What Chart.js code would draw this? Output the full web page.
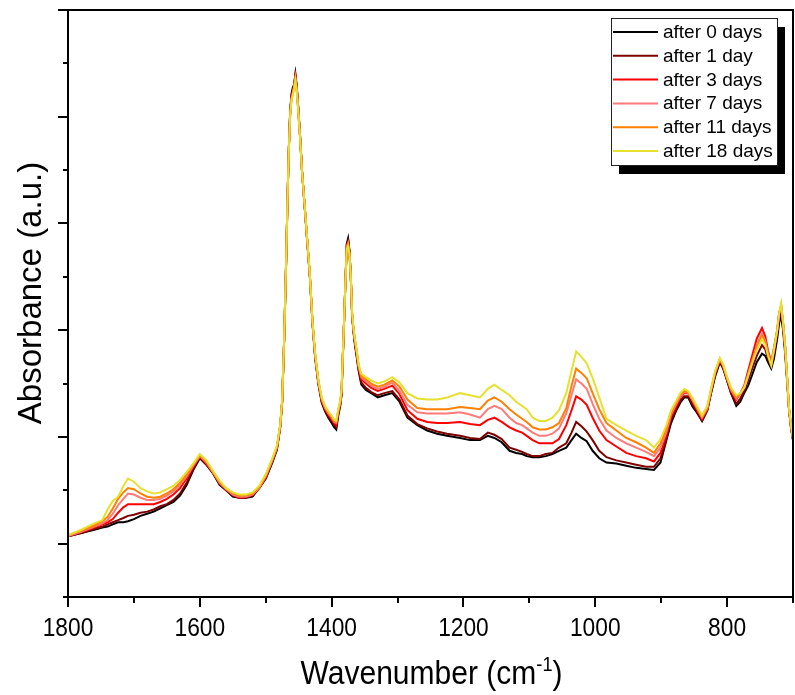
<!DOCTYPE html>
<html>
<head>
<meta charset="utf-8">
<title>Absorbance spectra</title>
<script src="https://cdn.jsdelivr.net/npm/chart.js@4.4.0/dist/chart.umd.min.js"></script>
<style>
    body { margin: 0; background: #fff; }
    #myLineChart { display: block; }
</style>
</head>
<body>
<canvas id="myLineChart" width="795" height="695"></canvas>
<script>
// wavenumber (cm-1) of each sampled point
var wavenumber = [1800, 1780, 1760, 1748, 1740, 1732, 1724, 1716, 1709, 1700, 1690, 1680, 1670, 1660, 1650, 1640, 1630, 1620, 1610, 1600, 1590, 1580, 1570, 1560, 1550, 1540, 1530, 1520, 1510, 1500, 1490, 1483,
    1478, 1475, 1472, 1469, 1467, 1465, 1463, 1461, 1459, 1457, 1455, 1453, 1451, 1448, 1445, 1441, 1437, 1433, 1429, 1425, 1420, 1415, 1410, 1405, 1400, 1396, 1393, 1390, 1387, 1385, 1383, 1381, 1379, 1377, 1375, 1373, 1371, 1369, 1367, 1365, 1362, 1359, 1355,
    1348, 1340, 1330, 1320, 1308, 1297, 1285, 1270, 1255, 1240, 1225, 1205, 1190, 1175, 1163, 1153, 1142, 1130, 1120, 1111,
    1104, 1095, 1085, 1075, 1065, 1055, 1044, 1036, 1029, 1021, 1013, 1004, 994, 983, 968, 953, 938, 923,
    911, 901, 892, 885, 877, 871, 865, 859, 853, 846, 838, 830, 824, 818, 811, 806, 800, 794, 786, 780, 774, 768, 762, 755, 747, 742, 738, 733, 729, 724, 721, 718, 715, 712, 709, 706, 703, 700];

// absorbance, in thousandths of an arbitrary unit
var after0 = [7, 10, 13, 15, 16, 18, 20, 20, 21, 23, 26, 28, 30, 33, 36, 39, 45, 55, 69, 80, 74, 66, 55, 50, 44, 43, 43, 44, 52, 61, 76, 88,
    109, 133, 191, 264, 321, 369, 404, 421, 427, 430, 440, 429, 412, 383, 350, 316, 283, 250, 206, 174, 149, 132, 124, 118, 113, 109, 107, 120, 129, 139, 175, 210, 247, 281, 286, 275, 251, 214, 199, 188, 175, 162, 149,
    144, 141, 137, 139, 141, 133, 118, 111, 106, 103, 101, 99, 97, 97, 101, 99, 95, 87, 85, 84,
    82, 81, 81, 82, 84, 87, 90, 97, 103, 99, 96, 87, 80, 76, 75, 73, 71, 70,
    69, 76, 97, 113, 125, 132, 137, 137, 129, 123, 115, 125, 142, 157, 170, 164, 153, 141, 129, 133, 141, 148, 158, 170, 178, 176, 170, 164, 173, 192, 207, 213, 200, 179, 153, 125, 108, 97];

var after1 = [7, 10, 14, 16, 18, 20, 22, 24, 26, 27, 29, 30, 32, 35, 37, 41, 47, 57, 70, 81, 74, 66, 56, 50, 45, 43, 43, 45, 52, 61, 77, 89,
    110, 134, 192, 265, 321, 369, 403, 419, 425, 429, 439, 428, 411, 383, 350, 317, 283, 250, 206, 175, 150, 133, 125, 119, 115, 111, 109, 121, 130, 140, 175, 210, 247, 280, 284, 274, 251, 215, 200, 189, 177, 163, 151,
    146, 142, 139, 141, 143, 135, 120, 112, 108, 105, 103, 101, 99, 98, 104, 102, 98, 90, 88, 86,
    84, 82, 82, 84, 85, 90, 94, 104, 114, 110, 105, 97, 87, 81, 78, 76, 74, 72,
    72, 80, 99, 116, 126, 134, 138, 138, 131, 124, 115, 125, 142, 158, 171, 165, 153, 141, 131, 136, 143, 153, 164, 176, 186, 182, 173, 166, 177, 196, 212, 217, 203, 182, 155, 126, 109, 97];

var after3 = [7, 11, 15, 18, 20, 23, 29, 34, 37, 37, 37, 37, 37, 39, 42, 46, 52, 61, 72, 82, 75, 67, 57, 51, 46, 43, 44, 46, 52, 62, 78, 90,
    110, 134, 192, 265, 321, 368, 402, 418, 423, 428, 437, 427, 410, 382, 349, 317, 284, 251, 207, 176, 151, 134, 126, 121, 117, 113, 111, 123, 131, 141, 176, 211, 246, 279, 282, 273, 251, 216, 201, 191, 179, 165, 154,
    150, 146, 143, 145, 148, 140, 125, 117, 114, 113, 113, 114, 112, 111, 116, 118, 114, 109, 106, 104,
    101, 97, 94, 94, 94, 98, 111, 125, 138, 135, 130, 118, 106, 97, 91, 85, 82, 80,
    77, 85, 102, 119, 129, 137, 141, 141, 134, 126, 117, 126, 144, 160, 172, 166, 154, 143, 135, 141, 148, 162, 176, 192, 202, 194, 181, 170, 183, 200, 216, 222, 206, 185, 156, 126, 110, 98];

var after7 = [7, 11, 16, 19, 22, 28, 36, 42, 47, 46, 43, 41, 41, 42, 45, 49, 55, 63, 73, 82, 76, 67, 57, 51, 46, 44, 44, 46, 52, 63, 78, 90,
    111, 135, 193, 265, 321, 368, 401, 417, 422, 428, 436, 426, 409, 382, 349, 317, 284, 251, 207, 177, 151, 135, 127, 122, 118, 114, 113, 124, 132, 142, 177, 211, 246, 278, 281, 272, 251, 217, 202, 192, 180, 166, 156,
    152, 148, 145, 147, 151, 143, 130, 123, 122, 122, 122, 123, 121, 118, 126, 129, 126, 118, 113, 111,
    108, 104, 101, 101, 103, 108, 122, 139, 154, 150, 145, 131, 117, 106, 99, 94, 90, 86,
    82, 90, 105, 121, 131, 138, 142, 141, 135, 127, 118, 127, 145, 161, 173, 167, 155, 144, 136, 141, 147, 159, 171, 186, 197, 190, 179, 169, 182, 200, 216, 223, 206, 185, 156, 126, 110, 98];

var after11 = [8, 12, 17, 21, 25, 33, 42, 48, 52, 51, 47, 44, 43, 44, 47, 51, 57, 65, 74, 83, 77, 67, 58, 52, 47, 45, 45, 47, 53, 64, 79, 91,
    111, 135, 193, 266, 322, 368, 401, 416, 421, 427, 436, 426, 409, 381, 349, 317, 284, 251, 208, 177, 152, 136, 128, 123, 119, 115, 114, 125, 133, 143, 177, 211, 246, 277, 281, 272, 251, 217, 202, 192, 180, 167, 157,
    154, 150, 147, 149, 153, 147, 135, 127, 126, 126, 126, 128, 127, 126, 134, 137, 133, 126, 121, 117,
    114, 109, 107, 107, 109, 113, 127, 148, 164, 160, 155, 141, 126, 113, 106, 99, 95, 90,
    85, 94, 108, 123, 133, 140, 143, 142, 136, 128, 119, 128, 145, 161, 173, 167, 155, 145, 137, 141, 146, 158, 171, 184, 195, 188, 178, 168, 181, 200, 216, 224, 207, 186, 157, 127, 111, 99];

var after18 = [8, 13, 19, 22, 32, 40, 44, 54, 61, 58, 52, 49, 47, 48, 51, 54, 60, 67, 75, 84, 78, 68, 59, 52, 48, 46, 46, 48, 54, 65, 80, 92,
    112, 136, 194, 266, 322, 368, 400, 415, 420, 426, 434, 424, 408, 381, 349, 318, 285, 252, 208, 178, 153, 137, 129, 124, 120, 116, 115, 126, 134, 144, 178, 212, 246, 276, 279, 271, 251, 218, 203, 193, 181, 168, 159,
    156, 153, 150, 152, 156, 151, 141, 136, 135, 135, 137, 141, 139, 137, 145, 149, 144, 139, 133, 129,
    126, 118, 115, 115, 118, 125, 141, 162, 180, 175, 169, 155, 137, 117, 111, 106, 101, 97,
    90, 98, 111, 125, 134, 141, 145, 143, 137, 129, 120, 129, 146, 162, 174, 168, 156, 146, 139, 141, 146, 157, 169, 181, 192, 186, 176, 167, 181, 200, 216, 225, 207, 186, 157, 127, 111, 99];

var seriesNames = ["after 0 days", "after 1 day", "after 3 days", "after 7 days", "after 11 days", "after 18 days"];
var seriesValues = [after0, after1, after3, after7, after11, after18];
var seriesColors = ["#000000", "#7f0000", "#ff0000", "#ff7b7b", "#ff8000", "#e5e12e"];

var xTicks = [1800, 1600, 1400, 1200, 1000, 800];
var xMinorTicks = [1700, 1500, 1300, 1100, 900, 700];
var yTicks = [0, 100, 200, 300, 400, 500];
var yMinorTicks = [-50, 50, 150, 250, 350, 450];

var fontName = '"Liberation Sans", Arial, sans-serif';

function toPoints(values) {
    var points = [];
    for (var i = 0; i < wavenumber.length; i++) {
        points.push({ x: wavenumber[i], y: values[i] });
    }
    return points;
}

// condensed text, the original figure is squeezed a little sideways
function squeezedText(ctx, text, x, y, sx) {
    ctx.save();
    ctx.translate(x, y);
    ctx.scale(sx, 1);
    ctx.fillText(text, 0, 0);
    ctx.restore();
}

var framePlugin = {
    id: "frame",
    afterDraw: function (chart) {
        var ctx = chart.ctx;
        var area = chart.chartArea;
        var xs = chart.scales.x;
        var ys = chart.scales.y;
        var i, p;

        ctx.save();
        ctx.strokeStyle = "#000";
        ctx.lineWidth = 2;
        ctx.strokeRect(area.left, area.top, area.right - area.left, area.bottom - area.top);

        // tick marks
        ctx.beginPath();
        for (i = 0; i < yTicks.length; i++) {
            p = Math.round(ys.getPixelForValue(yTicks[i]));
            ctx.moveTo(area.left - 10, p);
            ctx.lineTo(area.left, p);
        }
        for (i = 0; i < yMinorTicks.length; i++) {
            p = Math.round(ys.getPixelForValue(yMinorTicks[i]));
            ctx.moveTo(area.left - 5, p);
            ctx.lineTo(area.left, p);
        }
        for (i = 0; i < xTicks.length; i++) {
            p = Math.round(xs.getPixelForValue(xTicks[i]));
            ctx.moveTo(p, area.bottom);
            ctx.lineTo(p, area.bottom + 10);
        }
        for (i = 0; i < xMinorTicks.length; i++) {
            p = Math.round(xs.getPixelForValue(xMinorTicks[i]));
            ctx.moveTo(p, area.bottom);
            ctx.lineTo(p, area.bottom + 6);
        }
        ctx.stroke();

        // tick labels
        ctx.fillStyle = "#000";
        ctx.font = "25px " + fontName;
        ctx.textAlign = "center";
        ctx.textBaseline = "alphabetic";
        for (i = 0; i < xTicks.length; i++) {
            p = xs.getPixelForValue(xTicks[i]);
            squeezedText(ctx, String(xTicks[i]), p, 636, 0.91);
        }

        // x title with superscript
        var big = "33px " + fontName;
        var small = "20px " + fontName;
        ctx.textAlign = "left";
        ctx.font = big;
        var w1 = ctx.measureText("Wavenumber (cm").width * 0.91;
        var w3 = ctx.measureText(")").width * 0.91;
        ctx.font = small;
        var w2 = ctx.measureText("-1").width * 0.91;
        var startX = (area.left + area.right) / 2 + 1 - (w1 + w2 + w3) / 2;
        ctx.font = big;
        squeezedText(ctx, "Wavenumber (cm", startX, 684, 0.91);
        ctx.font = small;
        squeezedText(ctx, "-1", startX + w1, 671, 0.91);
        ctx.font = big;
        squeezedText(ctx, ")", startX + w1 + w2, 684, 0.91);

        // y title
        ctx.save();
        ctx.translate(41, 293);
        ctx.rotate(-Math.PI / 2);
        ctx.textAlign = "center";
        ctx.font = "33px " + fontName;
        ctx.fillText("Absorbance (a.u.)", 0, 0);
        ctx.restore();

        // legend box with its drop shadow
        var bx = 611, by = 18, bw = 166, bh = 147;
        ctx.fillStyle = "#000";
        ctx.fillRect(bx + 8, by + 9, bw, bh);
        ctx.fillStyle = "#fff";
        ctx.fillRect(bx, by, bw, bh);
        ctx.lineWidth = 1;
        ctx.strokeStyle = "#222";
        ctx.strokeRect(bx + 0.5, by + 0.5, bw, bh);

        ctx.font = "19px " + fontName;
        ctx.textAlign = "left";
        for (i = 0; i < seriesNames.length; i++) {
            var rowY = 32 + i * 23.8;
            ctx.strokeStyle = seriesColors[i];
            ctx.lineWidth = 2;
            ctx.beginPath();
            ctx.moveTo(613, rowY);
            ctx.lineTo(658, rowY);
            ctx.stroke();
            ctx.fillStyle = "#000";
            ctx.fillText(seriesNames[i], 663, rowY + 6);
        }
        ctx.restore();
    }
};

var datasets = [];
for (var s = 0; s < seriesNames.length; s++) {
    datasets.push({
        label: seriesNames[s],
        data: toPoints(seriesValues[s]),
        borderColor: seriesColors[s],
        backgroundColor: seriesColors[s],
        borderWidth: 2,
        pointRadius: 0,
        tension: 0,
        fill: false,
        // later days are painted over earlier ones
        order: seriesNames.length - s
    });
}

var myLineChart = new Chart(document.getElementById("myLineChart"), {
    type: "line",
    data: { datasets: datasets },
    options: {
        responsive: false,
        animation: false,
        layout: { padding: { top: 10, right: 2, left: 0, bottom: 0 } },
        plugins: {
            legend: { display: false },
            tooltip: { enabled: false }
        },
        scales: {
            x: {
                type: "linear",
                min: 700,
                max: 1800,
                reverse: true,
                grid: { display: false, drawTicks: false },
                border: { display: false },
                ticks: { display: false },
                afterFit: function (scale) { scale.height = 98; }
            },
            y: {
                min: -50,
                max: 500,
                grid: { display: false, drawTicks: false },
                border: { display: false },
                ticks: { display: false },
                afterFit: function (scale) { scale.width = 68; }
            }
        }
    },
    plugins: [framePlugin]
});
</script>
</body>
</html>
